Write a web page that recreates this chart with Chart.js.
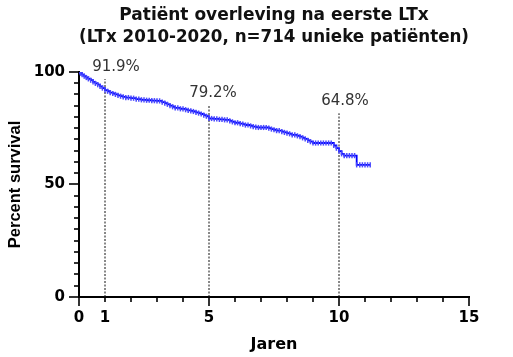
<!DOCTYPE html>
<html><head><meta charset="utf-8">
<script src="https://cdn.jsdelivr.net/npm/chart.js@4.4.1/dist/chart.umd.min.js"></script>
<style>html,body{margin:0;padding:0;background:#fff}#wrap{width:513px;height:357px;position:relative}</style>
</head><body><div id="wrap"><canvas id="c"></canvas></div>
<script>
// Kaplan-Meier estimate (years, percent survival)
const survTimes = [0,0.06,0.12,0.2,0.28,0.36,0.45,0.54,0.63,0.72,0.81,0.9,1.0,1.1,1.2,1.3,1.4,1.5,1.6,1.7,1.8,1.9,
  2.0,2.1,2.2,2.3,2.4,2.5,2.6,2.7,2.8,2.9,3.0,3.1,3.2,3.3,3.4,3.5,3.6,3.7,3.8,3.9,4.0,4.1,4.2,4.3,4.4,4.5,4.6,4.7,4.8,4.9,
  5.0,5.1,5.2,5.3,5.4,5.5,5.6,5.7,5.8,5.9,6.0,6.1,6.2,6.3,6.4,6.5,6.6,6.7,6.8,6.9,7.0,7.1,7.2,7.3,7.4,7.5,7.6,7.7,7.8,7.9,
  8.0,8.1,8.2,8.3,8.4,8.5,8.6,8.7,8.8,8.9,9.0,9.1,9.2,9.3,9.4,9.5,9.6,9.7,9.8,9.9,10.0,10.1,10.2,10.3,10.4,10.5,10.6,
  10.68,10.8,10.9,11.0,11.1,11.2];
const survPercent = [100,99.4,98.8,98.1,97.5,96.9,96.3,95.6,94.9,94.3,93.6,92.8,91.9,91.4,90.8,90.4,90.0,89.6,89.2,88.9,88.6,88.6,
  88.3,88.3,87.9,87.9,87.6,87.6,87.4,87.4,87.2,87.2,87.1,87.1,86.6,86.1,85.6,85.0,84.5,84.0,84.0,83.6,83.6,83.2,82.9,82.7,82.4,82.0,81.7,81.3,80.8,80.3,
  79.3,79.3,79.1,79.1,78.9,78.9,78.7,78.7,78.2,77.8,77.4,77.4,77.0,76.8,76.4,76.4,76.0,75.7,75.5,75.3,75.3,75.3,75.3,75.0,74.6,74.3,73.9,73.9,73.5,73.1,
  72.8,72.5,72.0,72.0,71.6,71.2,70.7,70.2,69.6,69.0,68.4,68.4,68.4,68.4,68.4,68.4,68.4,68.4,67.3,66.1,64.8,63.6,62.8,62.8,62.8,62.8,62.8,
  58.7,58.7,58.7,58.7,58.7,58.7];
const markerYears = [1, 5, 10];
const markerLabels = ['91.9%', '79.2%', '64.8%'];
const markerTops = [96.8, 85.3, 81.6];
const xTickValues = [0, 1, 5, 10, 15];
const yTickValues = [0, 50, 100];
const titleLines = ['Patiënt overleving na eerste LTx', '(LTx 2010-2020, n=714 unieke patiënten)'];
const xTitle = 'Jaren';
const yTitle = 'Percent survival';

const labelDx = [11, 4, 6];

const extras = {
  id: 'extras',
  afterDraw(chart) {
    const ctx = chart.ctx, xs = chart.scales.x, ys = chart.scales.y, ca = chart.chartArea;
    ctx.save();
    ctx.strokeStyle = '#000';
    ctx.lineWidth = 1.6;
    for (let v = xs.min; v <= xs.max; v += 1) {
      const px = Math.round(xs.getPixelForValue(v));
      const len = (v % 5 === 0) ? 9 : 5;
      ctx.beginPath(); ctx.moveTo(px, ca.bottom); ctx.lineTo(px, ca.bottom + len); ctx.stroke();
    }
    for (let v = ys.min; v <= ys.max; v += 5) {
      const py = Math.round(ys.getPixelForValue(v));
      const len = (v % 50 === 0) ? 10 : 5;
      ctx.beginPath(); ctx.moveTo(ca.left - len, py); ctx.lineTo(ca.left, py); ctx.stroke();
    }
    ctx.fillStyle = '#333';
    ctx.font = '15px "DejaVu Sans"';
    ctx.textAlign = 'center';
    ctx.textBaseline = 'middle';
    markerYears.forEach((t, i) => {
      ctx.fillText(markerLabels[i], xs.getPixelForValue(t) + labelDx[i], ys.getPixelForValue(markerTops[i]) - 12);
    });
    ctx.restore();
  }
};

const datasets = [{
  data: survTimes.map((t, i) => ({x: t, y: survPercent[i]})),
  stepped: true,
  borderColor: '#0000ff',
  borderWidth: 1.8,
  pointStyle: 'line',
  pointRotation: 90,
  pointRadius: 2.6,
  pointBorderColor: '#4848ff',
  pointBorderWidth: 1.5,
  fill: false,
  order: 0
}];
markerYears.forEach((t, i) => {
  datasets.push({
    data: [{x: t, y: 0}, {x: t, y: markerTops[i]}],
    borderColor: '#111',
    borderWidth: 1,
    borderDash: [2, 1.5],
    pointRadius: 0,
    fill: false,
    order: 1
  });
});

new Chart(document.getElementById('c'), {
  type: 'line',
  data: {datasets},
  plugins: [extras],
  options: {
    responsive: true,
    maintainAspectRatio: false,
    animation: false,
    events: [],
    layout: {padding: {left: 0, right: 44, top: 0, bottom: 0}},
    plugins: {
      legend: {display: false},
      tooltip: {enabled: false},
      title: {
        display: true,
        text: titleLines,
        fullSize: false,
        color: '#111',
        font: {family: 'DejaVu Sans', weight: 'bold', size: 17, lineHeight: 1.32},
        padding: {top: 4, bottom: 23}
      }
    },
    scales: {
      x: {
        type: 'linear', min: 0, max: 15,
        afterBuildTicks: s => { s.ticks = xTickValues.map(v => ({value: v})); },
        afterFit: s => { s.height = 60; },
        ticks: {autoSkip: false, maxRotation: 0, padding: 12, color: '#000',
          font: {family: 'DejaVu Sans', weight: 'bold', size: 15}},
        grid: {display: true, drawOnChartArea: false, drawTicks: false},
        border: {display: true, color: '#000', width: 2},
        title: {display: true, text: xTitle, color: '#000',
          font: {family: 'DejaVu Sans', weight: 'bold', size: 16}, padding: {top: 8, bottom: 3}}
      },
      y: {
        type: 'linear', min: 0, max: 100,
        afterBuildTicks: s => { s.ticks = yTickValues.map(v => ({value: v})); },
        afterFit: s => { s.width = 79; },
        ticks: {padding: 14, color: '#000',
          font: {family: 'DejaVu Sans', weight: 'bold', size: 15}},
        grid: {display: true, drawOnChartArea: false, drawTicks: false},
        border: {display: true, color: '#000', width: 2},
        title: {display: true, text: yTitle, color: '#000',
          font: {family: 'Liberation Sans', weight: 'bold', size: 16.5}, padding: {top: 6, bottom: 8}}
      }
    }
  }
});
</script>
</body></html>
